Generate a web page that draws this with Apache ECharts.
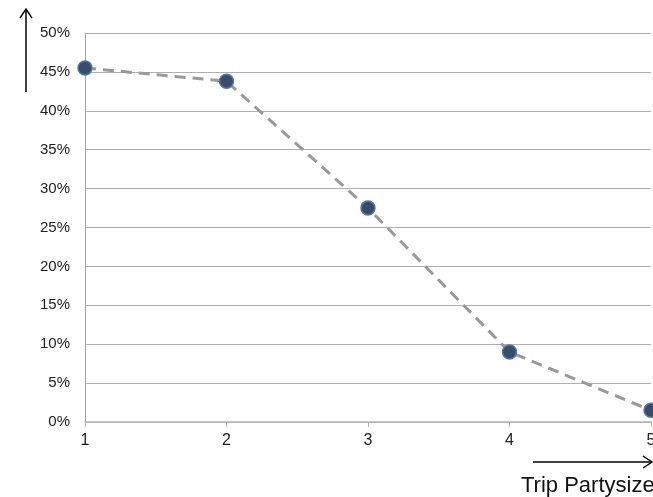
<!DOCTYPE html>
<html>
<head>
<meta charset="utf-8">
<script src="https://cdn.jsdelivr.net/npm/echarts@6/dist/echarts.min.js"></script>
<style>
  html, body { margin: 0; padding: 0; background: #ffffff; }
  #chart { width: 653px; height: 497px; }
</style>
</head>
<body>
<div id="chart"></div>
<script>
// Data
const categories = ['1', '2', '3', '4', '5'];
const shareValues = [45.5, 43.8, 27.5, 9.0, 1.5];
const yTicks = { min: 0, max: 50, interval: 5 };
const xAxisTitle = 'Trip Partysize';

const chart = echarts.init(document.getElementById('chart'), null, { renderer: 'canvas' });

const FONT = '"Liberation Sans", Arial, sans-serif';

chart.setOption({
  animation: false,
  backgroundColor: '#ffffff',
  grid: { left: 85, right: 2, top: 33, bottom: 75, containLabel: false, outerBoundsMode: 'none' },
  xAxis: {
    type: 'category',
    data: categories,
    boundaryGap: false,
    axisLine: { show: true, lineStyle: { color: '#b4b4b4', width: 1.5 } },
    axisTick: { show: true, alignWithLabel: true, length: 5, lineStyle: { color: '#b4b4b4' } },
    axisLabel: { color: '#222222', fontFamily: FONT, fontSize: 16, margin: 11, showMaxLabel: true },
    splitLine: { show: false }
  },
  yAxis: {
    type: 'value',
    min: yTicks.min,
    max: yTicks.max,
    interval: yTicks.interval,
    axisLine: { show: true, lineStyle: { color: '#a6a6a6', width: 1 } },
    axisTick: { show: false },
    axisLabel: { color: '#222222', fontFamily: FONT, fontSize: 15, margin: 15, formatter: '{value}%' },
    splitLine: { show: true, lineStyle: { color: '#b0b0b0', width: 1 } }
  },
  series: [{
    type: 'line',
    data: shareValues,
    symbol: 'circle',
    symbolSize: 14,
    itemStyle: { color: '#3b4c69', borderColor: '#5077b0', borderWidth: 1.5 },
    lineStyle: { color: '#999999', width: 3, type: [11, 7] },
    z: 3
  }],
  graphic: [
    // Up arrow on the left
    { type: 'line', shape: { x1: 26, y1: 92, x2: 26, y2: 10 }, style: { stroke: '#000', lineWidth: 1.5 } },
    { type: 'polyline', shape: { points: [[20, 18], [26, 9], [32, 18]] }, style: { stroke: '#000', lineWidth: 1.5, fill: null } },
    // Right arrow at the bottom
    { type: 'line', shape: { x1: 533, y1: 462, x2: 651, y2: 462 }, style: { stroke: '#000', lineWidth: 1.5 } },
    { type: 'polyline', shape: { points: [[643, 456], [652, 462], [643, 468]] }, style: { stroke: '#000', lineWidth: 1.5, fill: null } },
    {
      type: 'text',
      x: 521,
      y: 475,
      style: { text: xAxisTitle, fill: '#111', font: '22px ' + FONT }
    }
  ]
});
</script>
</body>
</html>
